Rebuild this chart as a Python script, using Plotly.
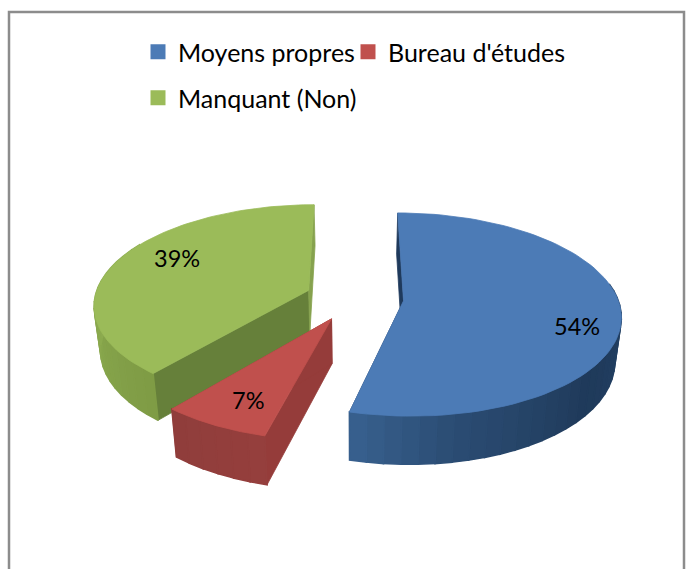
import numpy as np
import plotly.graph_objects as go

categories = ["Moyens propres", "Bureau d'études", "Manquant (Non)"]
values = [54, 7, 39]
top_colors = ["#4C7BB6", "#C0504D", "#9BBB59"]
cut_colors = ["#1F3A5C", "#953C3A", "#66803A"]
label_xy = [(577, 326), (248, 400), (177, 258)]

# appearance of the projected exploded pie (pixels on the page)
X0, Y0, A, B, K, EXPLODE, DEPTH, SHRINK = 354.5, 298, 214, 99, 0.134, 0.23, 43, 0.975
wall_stops = [
    [(80, "#25446A"), (130, "#1F3A5A"), (170, "#2B4C73"), (194.4, "#38618F")],
    [(194.4, "#963F3D"), (219.6, "#8F3D3B")],
    [(219.6, "#7E9B45"), (270, "#8CAB4F"), (300, "#8CAB4F")],
]
legend_names = ["legend", "legend2", "legend3"]
legend_left = [138, 348, 138]
legend_top = [29, 29, 75]


def project(x, y):
    s = 1 / (1 - K * y)
    return X0 + A * x * s, Y0 + B * y * s, s


def point(theta, r, ex, ey, low=False):
    t = np.radians(theta)
    px, py, s = project(ex + r * np.sin(t), ey - r * np.cos(t))
    if low:
        px = X0 + (px - X0) * SHRINK
        py = Y0 + (py - Y0) * SHRINK + (DEPTH * s) / SHRINK
    return px, py


def hex_rgb(c):
    return np.array([int(c[i:i + 2], 16) for i in (1, 3, 5)], float)


def shade(stops, theta):
    th = [s[0] for s in stops]
    cols = np.array([hex_rgb(s[1]) for s in stops])
    return "rgb({:.0f},{:.0f},{:.0f})".format(*[np.interp(theta, th, cols[:, i]) for i in range(3)])


def poly(fig, pts, color, width=0.8):
    xs = [p[0] for p in pts] + [pts[0][0]]
    ys = [p[1] for p in pts] + [pts[0][1]]
    fig.add_trace(go.Scatter(x=xs, y=ys, mode="lines", fill="toself", fillcolor=color,
                             line=dict(color=color, width=width), hoverinfo="skip", showlegend=False))


fig = go.Figure()
edges = np.concatenate([[0], np.cumsum(values)]) * 3.6
for i in [2, 0, 1]:
    a0, a1 = edges[i], edges[i + 1]
    mid = np.radians((a0 + a1) / 2)
    ex, ey = EXPLODE * np.sin(mid), -EXPLODE * np.cos(mid)
    # straight cut faces
    for ang in (a0, a1):
        poly(fig, [point(ang, 0, ex, ey), point(ang, 1, ex, ey),
                   point(ang, 1, ex, ey, True), point(ang, 0, ex, ey, True)],
             cut_colors[i] if ang != edges[3] else "#86A24E")
    # curved outer wall
    stops = wall_stops[i]
    w0, w1 = max(a0, stops[0][0]), min(a1, stops[-1][0])
    th = np.linspace(w0, w1, max(2, int((w1 - w0) / 4) + 1))
    for t0, t1 in zip(th[:-1], th[1:]):
        poly(fig, [point(t0, 1, ex, ey), point(t1, 1, ex, ey),
                   point(t1, 1, ex, ey, True), point(t0, 1, ex, ey, True)],
             shade(stops, (t0 + t1) / 2), width=1.6)
    # top face
    arc = np.linspace(a0, a1, 90)
    poly(fig, [point(0, 0, ex, ey)] + [point(t, 1, ex, ey) for t in arc], top_colors[i])

# legend entries
for i, name in enumerate(categories):
    fig.add_trace(go.Scatter(x=[None], y=[None], mode="markers", name=name,
                             marker=dict(symbol="square", size=15, color=top_colors[i]),
                             legend=legend_names[i]))

annotations = [dict(x=p[0], y=p[1], text=f"{v}%", showarrow=False, xref="x", yref="y",
                    font=dict(family="Lato", size=23.5, color="#000000"))
               for p, v in zip(label_xy, values)]

legends = {
    n: dict(x=l / 691, y=1 - t / 569, xanchor="left", yanchor="top", bgcolor="rgba(0,0,0,0)",
            font=dict(family="Lato", size=25, color="#000000"), itemwidth=30)
    for n, l, t in zip(legend_names, legend_left, legend_top)
}
fig.update_layout(
    width=691, height=569, autosize=False,
    margin=dict(l=0, r=0, t=0, b=0),
    paper_bgcolor="#FFFFFF", plot_bgcolor="#FFFFFF",
    xaxis=dict(range=[0, 691], visible=False, fixedrange=True),
    yaxis=dict(range=[569, 0], visible=False, fixedrange=True),
    showlegend=True,
    annotations=annotations,
    shapes=[dict(type="rect", xref="x", yref="y", x0=9, y0=12, x1=684, y1=620,
                 line=dict(color="#8C8C8C", width=2.5), layer="below")],
    **legends,
)
fig.write_html("out.html", config={"displayModeBar": False},
               post_script="document.body.style.margin='0';document.body.style.overflow='hidden';")
